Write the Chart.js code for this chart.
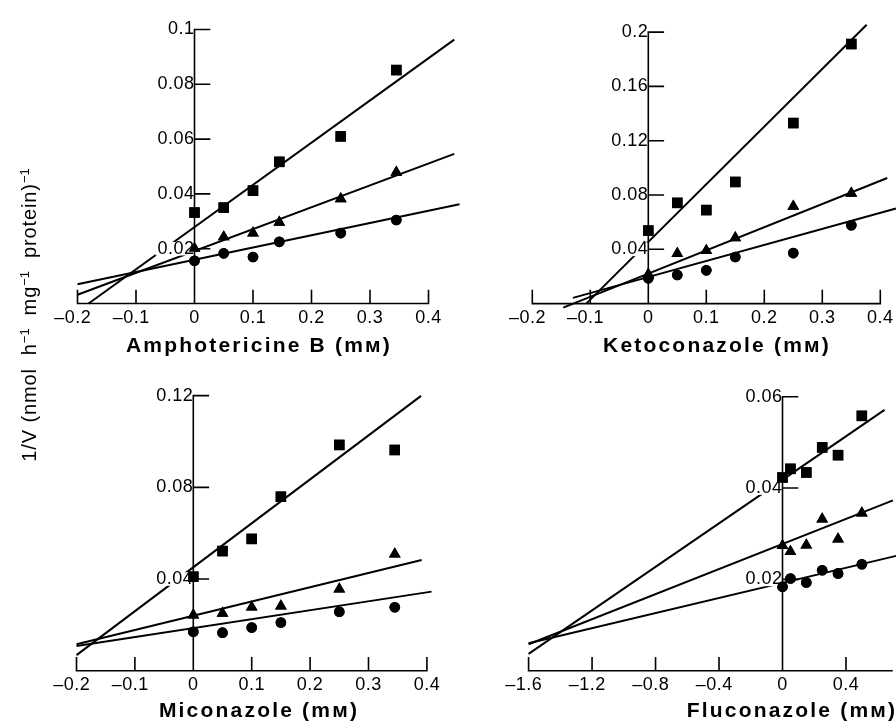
<!DOCTYPE html>
<html><head><meta charset="utf-8">
<script src="https://cdn.jsdelivr.net/npm/chart.js@4.4.0/dist/chart.umd.min.js"></script>
<style>
html,body{margin:0;padding:0;background:#fff;width:896px;height:724px;overflow:hidden;position:relative;font-family:"Liberation Sans",Arial,Helvetica,sans-serif;color:#000;}
canvas{position:absolute;left:0;top:0;}
.xt{position:absolute;font-weight:bold;font-size:21px;letter-spacing:2.2px;white-space:nowrap;text-align:center;width:400px;height:24px;line-height:24px;}
#yt{position:absolute;font-size:20px;letter-spacing:0.9px;white-space:nowrap;text-align:center;width:400px;height:24px;line-height:24px;left:-171px;top:303px;transform:rotate(-90deg);}
#yt sup{font-size:13px;vertical-align:baseline;position:relative;top:-7px;line-height:0;letter-spacing:0;}
</style></head><body>
<canvas id="c1" width="1000" height="724"></canvas>
<canvas id="c2" width="1000" height="724"></canvas>
<canvas id="c3" width="1000" height="724"></canvas>
<canvas id="c4" width="1000" height="724"></canvas>
<div id="yt">1/V (nmol&nbsp; h<sup>−1</sup>&nbsp; mg<sup>−1</sup>&nbsp; protein)<sup>−1</sup></div>
<div class="xt" style="left:59px;top:333px;">Amphotericine B (mм)</div>
<div class="xt" style="left:517px;top:333px;">Ketoconazole (mм)</div>
<div class="xt" style="left:59px;top:698px;">Miconazole (mм)</div>
<div class="xt" style="left:592px;top:698px;">Fluconazole (mм)</div>
<script>
// ---------- Amphotericine B ----------
const amphoConc = [0, 0.05, 0.1, 0.145, 0.25, 0.345];
const amphoSquares = [0.0332, 0.035, 0.0412, 0.0517, 0.061, 0.0852];
const amphoTriangles = [0.0201, 0.0243, 0.0257, 0.0296, 0.0382, 0.0479];
const amphoCircles = [0.0156, 0.0183, 0.017, 0.0225, 0.0257, 0.0305];
// fitted lines: [square, triangle, circle]
const amphoLineX0 = [-0.181, -0.2, -0.2];
const amphoLineY0 = [0, 0.0032, 0.007];
const amphoLineX1 = [0.444, 0.444, 0.453];
const amphoLineY1 = [0.0963, 0.0546, 0.0362];
const amphoXTicks = [-0.2, -0.1, 0, 0.1, 0.2, 0.3, 0.4];
const amphoXLabels = ['–0.2', '–0.1', '0', '0.1', '0.2', '0.3', '0.4'];
const amphoYTicks = [0.02, 0.04, 0.06, 0.08, 0.1];
const amphoYLabels = ['0.02', '0.04', '0.06', '0.08', '0.1'];

// ---------- Ketoconazole ----------
const ketoConc = [0, 0.05, 0.1, 0.15, 0.25, 0.35];
const ketoSquares = [0.0538, 0.0742, 0.0689, 0.0896, 0.133, 0.1912];
const ketoTriangles = [0.0215, 0.0368, 0.0391, 0.0485, 0.0716, 0.0812];
const ketoCircles = [0.0187, 0.0211, 0.0245, 0.0343, 0.0372, 0.0577];
const ketoLineX0 = [-0.107, -0.1466, -0.13];
const ketoLineY0 = [0, -0.003, 0.0042];
const ketoLineX1 = [0.3765, 0.412, 0.427];
const ketoLineY1 = [0.2054, 0.0925, 0.0701];
const ketoXTicks = [-0.2, -0.1, 0, 0.1, 0.2, 0.3, 0.4];
const ketoXLabels = ['–0.2', '–0.1', '0', '0.1', '0.2', '0.3', '0.4'];
const ketoYTicks = [0.04, 0.08, 0.12, 0.16, 0.2];
const ketoYLabels = ['0.04', '0.08', '0.12', '0.16', '0.2'];

// ---------- Miconazole ----------
const micoConc = [0, 0.05, 0.1, 0.15, 0.25, 0.345];
const micoSquares = [0.041, 0.0522, 0.0575, 0.0759, 0.0985, 0.0963];
const micoTriangles = [0.0243, 0.025, 0.0277, 0.0282, 0.0356, 0.0509];
const micoCircles = [0.017, 0.0166, 0.0188, 0.021, 0.0257, 0.0277];
const micoLineX0 = [-0.2, -0.2, -0.2];
const micoLineY0 = [0.0068, 0.0115, 0.0108];
const micoLineX1 = [0.39, 0.391, 0.408];
const micoLineY1 = [0.1199, 0.0483, 0.0345];
const micoXTicks = [-0.2, -0.1, 0, 0.1, 0.2, 0.3, 0.4];
const micoXLabels = ['–0.2', '–0.1', '0', '0.1', '0.2', '0.3', '0.4'];
const micoYTicks = [0.04, 0.08, 0.12];
const micoYLabels = ['0.04', '0.08', '0.12'];

// ---------- Fluconazole ----------
const flucoConc = [0, 0.05, 0.15, 0.25, 0.35, 0.5];
const flucoSquares = [0.0423, 0.0442, 0.0434, 0.0489, 0.0472, 0.0558];
const flucoTriangles = [0.0274, 0.0261, 0.0275, 0.0332, 0.0288, 0.0345];
const flucoCircles = [0.0184, 0.0202, 0.0193, 0.022, 0.0213, 0.0233];
const flucoLineX0 = [-1.6, -1.6, -1.6];
const flucoLineY0 = [0.0037, 0.0058, 0.006];
const flucoLineX1 = [0.643, 0.696, 0.723];
const flucoLineY1 = [0.0571, 0.0373, 0.0252];
const flucoXTicks = [-1.6, -1.2, -0.8, -0.4, 0, 0.4];
const flucoXLabels = ['–1.6', '–1.2', '–0.8', '–0.4', '0', '0.4'];
const flucoYTicks = [0.02, 0.04, 0.06];
const flucoYLabels = ['0.02', '0.04', '0.06'];

const FONT = '"Liberation Sans", Arial, Helvetica, sans-serif';
const CW = 1000, CH = 724;

function pad(label) { return label.charAt(0) === '–' ? label + '\u2002' : label; }

function makePanel(id, D, G) {
  const left = G.zeroX + G.xmin * G.kx;
  const right = G.zeroX + G.xmax * G.kx;
  const top = G.zeroY - G.ymax * G.ky;
  const bottom = G.zeroY - G.ymin * G.ky;
  const shapes = ['rect', 'triangle', 'circle'];
  const radii = [7.4, 6.8, 5.3];
  const series = [D.squares, D.triangles, D.circles];
  const datasets = [];
  series.forEach((s, i) => {
    datasets.push({
      data: [{x: D.lx0[i], y: D.ly0[i]}, {x: D.lx1[i], y: D.ly1[i]}],
      showLine: true, pointRadius: 0, borderColor: '#000', borderWidth: 2, clip: false, order: 2
    });
    datasets.push({
      data: D.conc.map((x, j) => ({x: x, y: s[j]})),
      showLine: false, pointStyle: shapes[i], pointRadius: radii[i],
      backgroundColor: '#000', borderColor: '#000', borderWidth: 0, clip: false, order: 1
    });
  });
  const axesPlugin = {
    id: 'axes' + id,
    beforeUpdate(chart) { chart.ctx.letterSpacing = '0.5px'; },
    beforeDraw(chart) { chart.ctx.letterSpacing = '0.5px'; },
    afterDraw(chart) {
      const c = chart.ctx, xs = chart.scales.x, ys = chart.scales.y;
      // markers sit on top of the tick-label backdrops
      chart.data.datasets.forEach((ds, i) => {
        if (!ds.showLine) chart.getDatasetMeta(i).data.forEach(p => p.draw(c, chart.chartArea));
      });
      const X0 = xs.getPixelForValue(0), Y0 = ys.getPixelForValue(0);
      c.save();
      c.strokeStyle = '#000'; c.lineWidth = 1.6; c.lineCap = 'square';
      c.beginPath();
      c.moveTo(xs.getPixelForValue(D.xTicks[0]), Y0);
      c.lineTo(xs.getPixelForValue(G.xAxisEnd), Y0);
      D.xTicks.forEach(v => {
        if (v !== 0) { const px = xs.getPixelForValue(v); c.moveTo(px, Y0); c.lineTo(px, Y0 - 13); }
      });
      const yTop = ys.getPixelForValue(D.yTicks[D.yTicks.length - 1]);
      c.moveTo(X0, Y0); c.lineTo(X0, yTop);
      D.yTicks.forEach(v => { const py = ys.getPixelForValue(v); c.moveTo(X0, py); c.lineTo(X0 + 15, py); });
      c.stroke();
      c.restore();
    }
  };
  new Chart(document.getElementById(id), {
    type: 'scatter',
    data: {datasets},
    options: {
      responsive: false, animation: false, devicePixelRatio: 1,
      layout: {padding: {left: left, right: CW - right, top: top, bottom: CH - bottom}},
      plugins: {legend: {display: false}, tooltip: {enabled: false}, title: {display: false}},
      scales: {
        x: {
          type: 'linear', min: G.xmin, max: G.xmax, position: {y: 0},
          grid: {display: false, drawTicks: false}, border: {display: false},
          afterBuildTicks: s => { s.ticks = D.xTicks.map(v => ({value: v})); },
          ticks: {autoSkip: false, maxRotation: 0, minRotation: 0, padding: 4, color: '#000',
                  font: {family: FONT, size: 18}, callback: (v, i) => pad(D.xLabels[i])}
        },
        y: {
          type: 'linear', min: G.ymin, max: G.ymax, position: {x: 0},
          grid: {display: false, drawTicks: false}, border: {display: false},
          afterBuildTicks: s => { s.ticks = D.yTicks.map(v => ({value: v})); },
          ticks: {autoSkip: false, padding: 5, color: '#000', z: 1,
                  showLabelBackdrop: true, backdropColor: '#fff', backdropPadding: {top: -4, bottom: -4, left: 2, right: 1},
                  font: {family: FONT, size: 18}, callback: (v, i) => D.yLabels[i]}
        }
      }
    },
    plugins: [axesPlugin]
  });
}

makePanel('c1',
  {conc: amphoConc, squares: amphoSquares, triangles: amphoTriangles, circles: amphoCircles,
   lx0: amphoLineX0, ly0: amphoLineY0, lx1: amphoLineX1, ly1: amphoLineY1,
   xTicks: amphoXTicks, xLabels: amphoXLabels, yTicks: amphoYTicks, yLabels: amphoYLabels},
  {zeroX: 194.5, kx: 585, zeroY: 303, ky: 2805, xmin: -0.2, xmax: 0.47, ymin: -0.008, ymax: 0.105, xAxisEnd: 0.4});
makePanel('c2',
  {conc: ketoConc, squares: ketoSquares, triangles: ketoTriangles, circles: ketoCircles,
   lx0: ketoLineX0, ly0: ketoLineY0, lx1: ketoLineX1, ly1: ketoLineY1,
   xTicks: ketoXTicks, xLabels: ketoXLabels, yTicks: ketoYTicks, yLabels: ketoYLabels},
  {zeroX: 648.3, kx: 580, zeroY: 303.3, ky: 1387.5, xmin: -0.2, xmax: 0.55, ymin: -0.01, ymax: 0.212, xAxisEnd: 0.4});
makePanel('c3',
  {conc: micoConc, squares: micoSquares, triangles: micoTriangles, circles: micoCircles,
   lx0: micoLineX0, ly0: micoLineY0, lx1: micoLineX1, ly1: micoLineY1,
   xTicks: micoXTicks, xLabels: micoXLabels, yTicks: micoYTicks, yLabels: micoYLabels},
  {zeroX: 193.3, kx: 584, zeroY: 670.7, ky: 2292, xmin: -0.2, xmax: 0.45, ymin: -0.006, ymax: 0.126, xAxisEnd: 0.4});
makePanel('c4',
  {conc: flucoConc, squares: flucoSquares, triangles: flucoTriangles, circles: flucoCircles,
   lx0: flucoLineX0, ly0: flucoLineY0, lx1: flucoLineX1, ly1: flucoLineY1,
   xTicks: flucoXTicks, xLabels: flucoXLabels, yTicks: flucoYTicks, yLabels: flucoYLabels},
  {zeroX: 782.5, kx: 158.7, zeroY: 670.7, ky: 4567, xmin: -1.6, xmax: 1.2, ymin: -0.003, ymax: 0.063, xAxisEnd: 0.69});
</script>
</body></html>
